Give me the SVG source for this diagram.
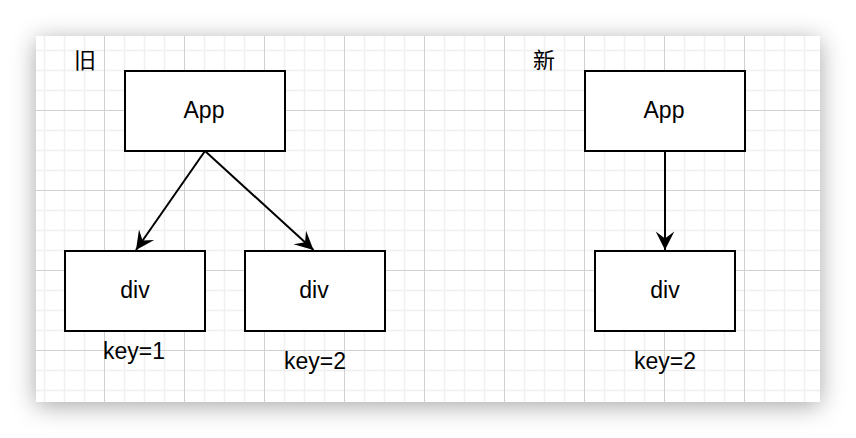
<svg xmlns="http://www.w3.org/2000/svg" width="856" height="438" viewBox="0 0 856 438">
  <defs>
    <filter id="shadow" x="-10%" y="-20%" width="120%" height="140%">
      <feDropShadow dx="0" dy="4" stdDeviation="12" flood-color="#000" flood-opacity="0.35"/>
    </filter>
    <pattern id="grid" patternUnits="userSpaceOnUse" x="24" y="30" width="80" height="80">
      <rect width="80" height="80" fill="#ffffff"/>
      <path d="M20.5 0V80M40.5 0V80M60.5 0V80M0 20.5H80M0 40.5H80M0 60.5H80" stroke="#f0f0f0" stroke-width="1.5" fill="none"/>
      <path d="M0.5 0V80M0 0.5H80" stroke="#d0d0d0" stroke-width="1" fill="none"/>
    </pattern>
    <marker id="arrow" markerUnits="userSpaceOnUse" markerWidth="24" markerHeight="24" viewBox="-20 -10 22 20" refX="0" refY="0" orient="auto">
      <path d="M-17 -8.5 L0 0 L-17 8.5 L-10.5 0 Z" fill="#000"/>
    </marker>
    <style>
      .box { fill: #ffffff; stroke: #000000; stroke-width: 2; }
      .lbl { font-family: "Liberation Sans", Arial, Helvetica, sans-serif; font-size: 23px; fill: #000; text-anchor: middle; }
      .cjk { font-family: "Noto Sans CJK SC", "Noto Sans CJK JP", sans-serif; font-size: 22px; fill: #000; text-anchor: middle; }
      .edge { stroke: #000; stroke-width: 2; fill: none; marker-end: url(#arrow); }
    </style>
  </defs>
  <rect width="856" height="438" fill="#ffffff"/>
  <rect x="36" y="36" width="784" height="366" fill="#ffffff" filter="url(#shadow)"/>
  <rect x="36" y="36" width="784" height="366" fill="url(#grid)"/>

  <g id="title-old"><text class="cjk" x="85" y="68">旧</text></g>
  <g id="title-new"><text class="cjk" x="544" y="68">新</text></g>

  <g id="connectors">
    <line class="edge" x1="205" y1="151" x2="136" y2="250"/>
    <line class="edge" x1="205" y1="151" x2="313.5" y2="250"/>
    <line class="edge" x1="665" y1="151" x2="665" y2="250"/>
  </g>

  <g id="app-old">
    <rect class="box" x="125" y="71" width="160" height="80"/>
    <text class="lbl" x="204" y="118">App</text>
  </g>
  <g id="div1-old">
    <rect class="box" x="65" y="251" width="140" height="80"/>
    <text class="lbl" x="135" y="298">div</text>
  </g>
  <g id="div2-old">
    <rect class="box" x="245" y="251" width="140" height="80"/>
    <text class="lbl" x="314" y="298">div</text>
  </g>
  <g id="key1-old"><text class="lbl" x="134" y="359">key=1</text></g>
  <g id="key2-old"><text class="lbl" x="315" y="369">key=2</text></g>

  <g id="app-new">
    <rect class="box" x="585" y="71" width="160" height="80"/>
    <text class="lbl" x="664" y="118">App</text>
  </g>
  <g id="div-new">
    <rect class="box" x="595" y="251" width="140" height="80"/>
    <text class="lbl" x="665" y="298">div</text>
  </g>
  <g id="key2-new"><text class="lbl" x="665" y="369">key=2</text></g>
</svg>
